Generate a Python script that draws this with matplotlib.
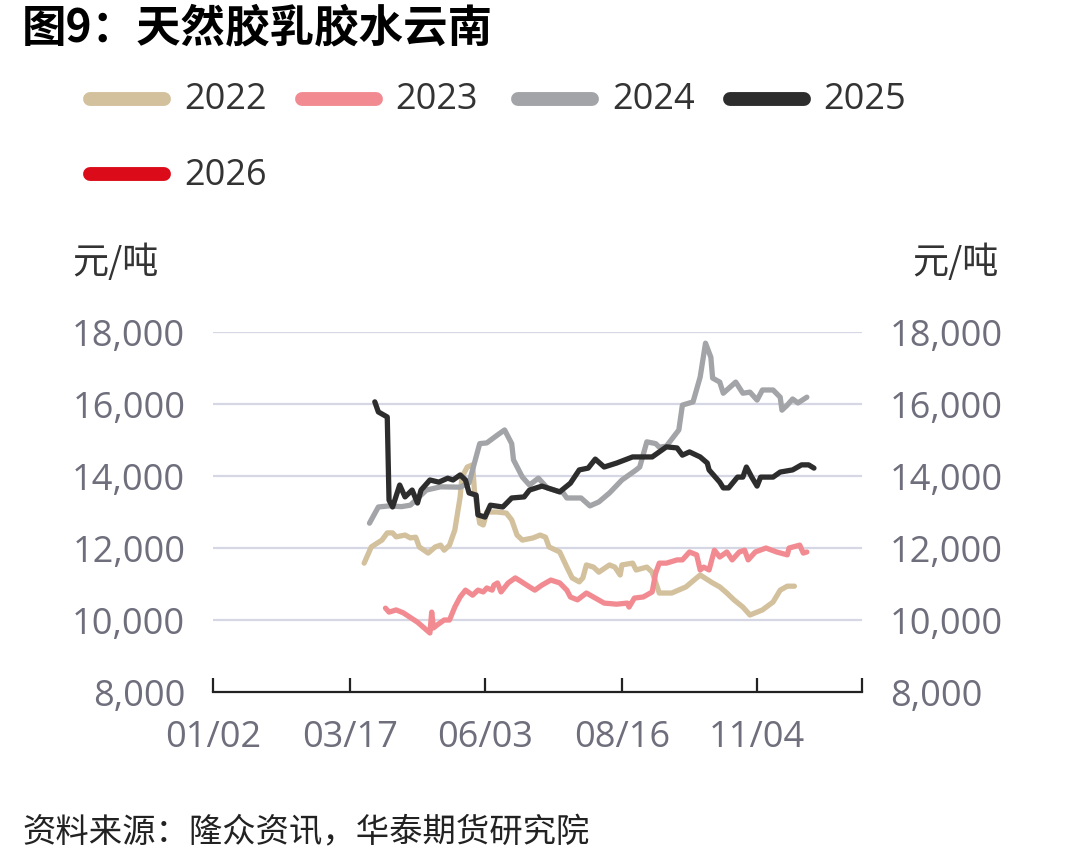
import matplotlib
matplotlib.use("Agg")
import matplotlib.pyplot as plt
from matplotlib.lines import Line2D

plt.rcParams['font.family'] = ['Noto Sans CJK SC', 'DejaVu Sans']
num_font = ['Open Sans', 'Noto Sans CJK SC']

# x is a day index on the chart's date axis (0 = 01/02)
tick_pos = [0, 77, 153, 230, 306]
tick_labels = ["01/02", "03/17", "06/03", "08/16", "11/04"]
years = ["2022", "2023", "2024", "2025", "2026"]
colors = ["#d3c09c", "#f28b91", "#a2a4a7", "#2d2d2d", "#dc0b19"]

x_2022 = [85, 89, 95, 98, 101, 103, 108, 111, 114, 116, 121, 125, 128, 130, 133, 136, 139, 140,
          143, 146, 147, 150, 152, 154, 160, 165, 168, 171, 174, 180, 184, 187, 189, 195, 199,
          202, 206, 208, 210, 214, 217, 223, 226, 229, 230, 236, 238, 244, 247, 251, 258, 266,
          272, 274, 281, 285, 289, 293, 298, 302, 309, 315, 319, 323, 327]
y_2022 = [11580, 12030, 12220, 12420, 12420, 12310, 12360, 12280, 12300, 12030, 11860, 12030,
          12080, 11940, 12080, 12500, 13420, 13970, 14250, 14310, 13610, 12690, 12640, 13000,
          13000, 12970, 12780, 12360, 12220, 12280, 12360, 12300, 12030, 11890, 11470, 11170,
          11060, 11170, 11530, 11470, 11330, 11530, 11470, 11250, 11530, 11580, 11390, 11470,
          11330, 10750, 10750, 10920, 11170, 11250, 11030, 10920, 10750, 10560, 10360, 10140,
          10280, 10500, 10830, 10940, 10940]

x_2023 = [97, 99, 103, 107, 115, 122, 123, 124, 126, 130, 133, 136, 139, 142, 146, 149, 152, 154,
          157, 158, 160, 162, 166, 170, 172, 178, 181, 185, 190, 195, 199, 201, 205, 210, 215,
          220, 227, 233, 234, 237, 242, 247, 249, 251, 255, 261, 264, 268, 272, 274, 276, 279,
          282, 285, 289, 292, 296, 299, 301, 305, 311, 317, 323, 324, 330, 332, 334]
y_2023 = [10330, 10220, 10280, 10200, 9940, 9640, 10220, 9780, 9860, 10000, 10000, 10360, 10640,
          10830, 10690, 10830, 10780, 10890, 10830, 10970, 11030, 10780, 11030, 11170, 11110,
          10920, 10830, 10970, 11110, 11030, 10830, 10640, 10560, 10750, 10610, 10470, 10440,
          10470, 10360, 10610, 10640, 10780, 11310, 11580, 11580, 11670, 11670, 11890, 11810,
          11390, 11470, 11390, 11940, 11750, 11890, 11670, 11890, 11940, 11670, 11890, 12000,
          11890, 11810, 12000, 12080, 11860, 11890]

x_2024 = [88, 93, 99, 106, 111, 120, 128, 139, 144, 150, 154, 160, 164, 168, 169, 174, 178, 183,
          188, 197, 199, 207, 212, 217, 223, 230, 238, 240, 244, 249, 251, 255, 262, 264, 270,
          274, 277, 280, 281, 285, 287, 294, 298, 302, 306, 309, 315, 319, 320, 323, 326, 329, 334]
y_2024 = [12690, 13140, 13170, 13150, 13190, 13610, 13700, 13690, 13810, 14900, 14920, 15140,
          15280, 14900, 14450, 13970, 13750, 13940, 13670, 13530, 13390, 13390, 13170, 13280,
          13530, 13890, 14170, 14250, 14950, 14900, 14800, 14830, 15280, 15970, 16060, 16750,
          17690, 17300, 16720, 16610, 16300, 16610, 16300, 16330, 16110, 16390, 16390, 16190,
          15830, 15970, 16140, 16030, 16190]

x_2025 = [91, 93, 98, 99, 101, 105, 108, 112, 115, 117, 122, 127, 132, 135, 139, 142, 144, 148,
          149, 153, 156, 163, 168, 175, 178, 185, 195, 201, 206, 211, 215, 220, 227, 236, 247,
          251, 255, 261, 264, 268, 274, 278, 279, 285, 287, 290, 295, 298, 300, 303, 306, 308,
          315, 319, 326, 331, 335, 338]
y_2025 = [16060, 15780, 15640, 13330, 13140, 13750, 13420, 13610, 13250, 13610, 13890, 13830,
          13940, 13890, 14030, 13890, 13530, 13470, 12920, 12860, 13190, 13140, 13390, 13420,
          13610, 13720, 13560, 13800, 14170, 14220, 14470, 14250, 14360, 14530, 14530, 14670,
          14810, 14780, 14580, 14670, 14530, 14360, 14170, 13830, 13670, 13670, 13970, 13970,
          14250, 13970, 13720, 13970, 13970, 14110, 14170, 14310, 14310, 14220]

x_2026 = []
y_2026 = []

series = [(x_2022, y_2022), (x_2023, y_2023), (x_2024, y_2024), (x_2025, y_2025), (x_2026, y_2026)]

fig = plt.figure(figsize=(10.78, 8.66), dpi=100)
ax = fig.add_axes([0.1976, 0.2009, 0.602, 0.4157])

for (xs, ys), c in zip(series, colors):
    ax.plot(xs, ys, color=c, lw=3.8, solid_joinstyle='round', solid_capstyle='round')

ax.set_xlim(0, 365)
ax.set_ylim(8000, 18000)
yt = [8000, 10000, 12000, 14000, 16000, 18000]
ax.set_yticks(yt)
ax.set_yticklabels([f"{v:,}" for v in yt])
for v in yt[1:]:
    ax.axhline(v, color="#d6d7e5", lw=1.6, zorder=0)

ax.set_xticks(tick_pos + [365])
ax.set_xticklabels(tick_labels + [""])
for s in ["top", "left", "right"]:
    ax.spines[s].set_visible(False)
ax.spines["bottom"].set_color("#222222")
ax.spines["bottom"].set_linewidth(1.6)
ax.tick_params(axis="x", direction="in", length=10, width=1.6, color="#222222",
               labelsize=26, labelcolor="#6e6e7c", pad=20)
ax.tick_params(axis="y", length=0, labelsize=26, labelcolor="#6e6e7c", pad=20,
               labelright=True)
for lab in ax.get_xticklabels() + ax.get_yticklabels():
    lab.set_family(num_font)
for t in ax.yaxis.get_major_ticks():
    t.label2.set_family(num_font)

fig.text(0.0204, 0.967, "图9：天然胶乳胶水云南", fontsize=32, fontweight="bold",
         va="center", ha="left", color="#000000")

leg_rows = [0.886, 0.886, 0.886, 0.886, 0.799]
leg_x = [0.0835, 0.280, 0.4805, 0.677, 0.0835]
for yr, c, lx, ly in zip(years, colors, leg_x, leg_rows):
    fig.add_artist(Line2D([lx, lx + 0.069], [ly, ly], transform=fig.transFigure,
                          color=c, lw=10, solid_capstyle="round"))
    fig.text(lx + 0.087, ly - 0.002, yr, fontsize=26, va="center", ha="left", color="#333333",
             family=num_font)

fig.text(0.0668, 0.6975, "元/吨", fontsize=26, va="center", ha="left", color="#333333")
fig.text(0.846, 0.6975, "元/吨", fontsize=26, va="center", ha="left", color="#333333")

fig.text(0.0204, 0.038, "资料来源：隆众资讯，华泰期货研究院", fontsize=24, style="italic",
         va="center", ha="left", color="#222222")

fig.savefig("out.png", dpi=100)
